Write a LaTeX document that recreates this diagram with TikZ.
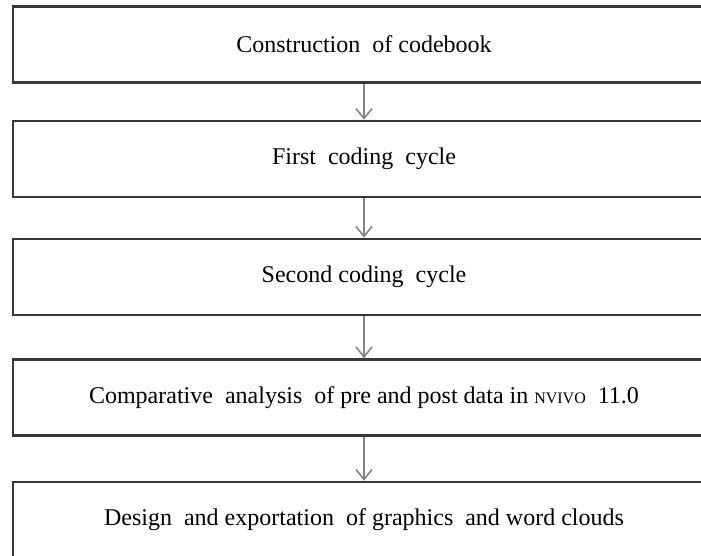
\documentclass[tikz,border=0pt]{standalone}
\usepackage{fontspec}
\setmainfont{Liberation Serif}
\usetikzlibrary{arrows.meta}
\def\nvivo{{\footnotesize NVIVO}}

\begin{document}
\begin{tikzpicture}[>={Straight Barb[width=8pt,length=5pt]}, stage/.style={draw=black!78, line width=1.3pt, minimum width=351pt, minimum height=38pt, inner sep=0pt, font=\fontsize{12pt}{14pt}\selectfont}, flow/.style={->, draw=black!48, line width=0.8pt}]
\useasboundingbox[fill=white] (0pt, 0pt) rectangle (350.5pt, -278pt);
\draw (182.0pt, -22.25pt)node[stage](0){Construction\ \ of codebook};
\draw (182.0pt, -79.5pt)node[stage](1){First\ \ coding\ \ cycle};
\draw (182.0pt, -138.5pt)node[stage](2){Second coding\ \ cycle};
\draw (182.0pt, -198.75pt)node[stage](3){Comparative\ \ analysis\ \ of pre and post data in \nvivo\ \ 11.0};
\draw (182.0pt, -260.0pt)node[stage](4){Design\ \ and exportation\ \ of graphics\ \ and word clouds};
\path[flow] (0) edge (1);
\path[flow] (1) edge (2);
\path[flow] (2) edge (3);
\path[flow] (3) edge (4);
\end{tikzpicture}
\end{document}
